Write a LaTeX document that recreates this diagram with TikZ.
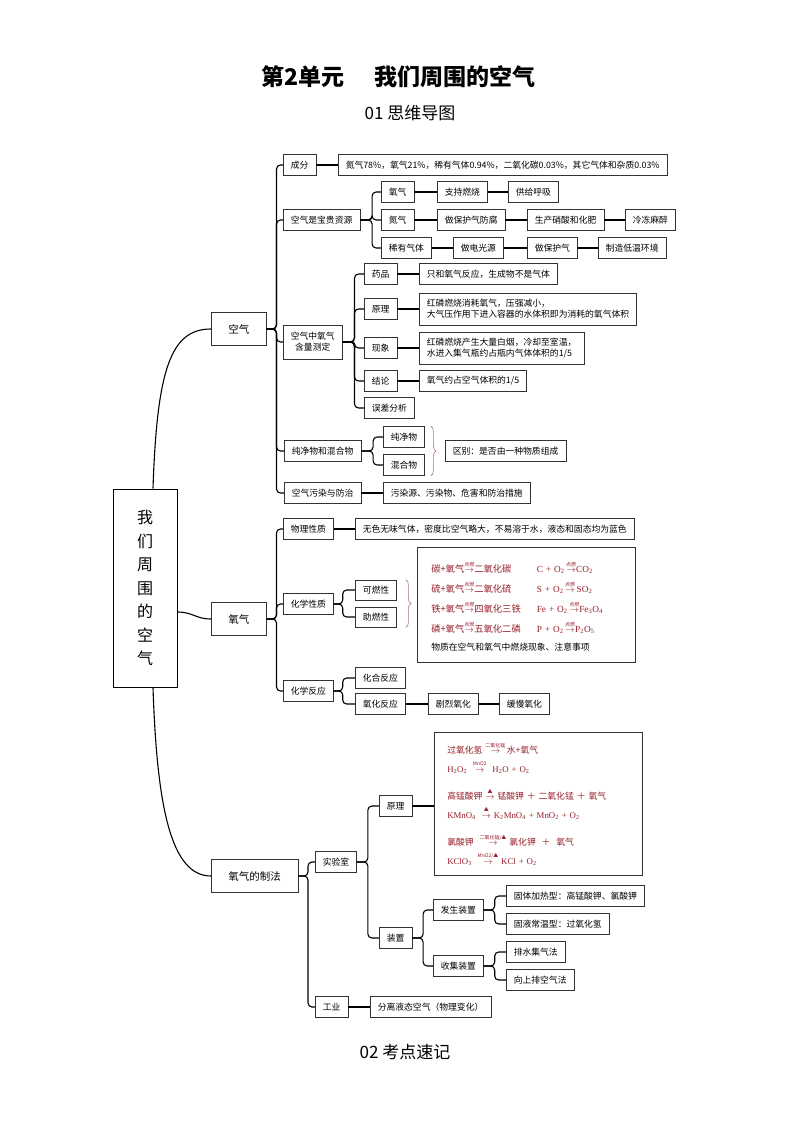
\documentclass[tikz,border=0pt]{standalone}
\usepackage{fontspec}
\setmainfont{Noto Sans CJK SC}
\newfontfamily\cjk{Noto Sans CJK SC}
\newfontfamily\chemfont{Liberation Serif}
\usetikzlibrary{decorations.pathreplacing}
\definecolor{rxnred}{RGB}{150,30,40}
\definecolor{bracecol}{RGB}{175,115,115}
\newcommand{\rarr}[1]{$\stackrel{\mbox{\cjk\fontsize{5}{5}\selectfont\raisebox{1pt}{#1}}}{\rightarrow}$}
\newcommand{\chsub}[1]{\textsubscript{#1}}
\tikzset{
  box/.style={draw=black!80, line width=0.5pt, fill=white, anchor=west, minimum height=21,
    inner xsep=7.5, inner ysep=3, font=\fontsize{8.8}{11}\selectfont},
  big/.style={box, minimum height=33, inner xsep=17, font=\fontsize{10.5}{13}\selectfont},
  twoline/.style={box, minimum height=32, align=left},
  link/.style={line width=1.1pt, rounded corners=4pt},
  branch/.style={line width=1.1pt},
  brc/.style={decorate, decoration={brace, amplitude=5pt}, draw=bracecol, line width=0.6pt}
}
\begin{document}
\begin{tikzpicture}[x=1pt, y=-1pt]
    \fill[white] (0,0) rectangle (794,1123);
    \useasboundingbox (0,0) rectangle (794,1123);
    % Titles
    \node[font=\fontsize{23}{25}\selectfont\bfseries] (title) at (398,77) {第2单元\hspace{30pt}我们周围的空气};
    \node[font=\fontsize{17}{19}\selectfont] (sub1) at (410,113) {01 思维导图};
    \node[font=\fontsize{17}{19}\selectfont] (sub2) at (405,1052) {02 考点速记};
    % Root and main branches
    \node[draw, line width=1pt, minimum width=64, minimum height=198, align=center,
      font=\fontsize{16}{23.5}\selectfont] (root) at (145,588) {我\\们\\周\\围\\的\\空\\气};
    \node[big] (air) at (211,329) {空气};
    \node[big] (oxy) at (211,619) {氧气};
    \node[big] (prep) at (211,876) {氧气的制法};
    \draw[branch] ([xshift=8]root.north) .. controls +(4,-120) and +(-40,0) .. (air.west);
    \draw[branch] ([yshift=-24]root.east) .. controls +(15,0) and +(-15,0) .. (oxy.west);
    \draw[branch] ([xshift=8]root.south) .. controls +(4,120) and +(-40,0) .. (prep.west);

    % Air
    \node[box] (comp) at (283,165) {成分};
    \node[box] (compt) at (338,165) {氮气78\%，氧气21\%，稀有气体0.94\%，二氧化碳0.03\%，其它气体和杂质0.03\%};
    \node[box] (res) at (283,220) {空气是宝贵资源};
    \node[box] (o2) at (381,192) {氧气};
    \node[box] (o2a) at (437,192) {支持燃烧};
    \node[box] (o2b) at (508,192) {供给呼吸};
    \node[box] (n2) at (381,220) {氮气};
    \node[box] (n2a) at (437,220) {做保护气防腐};
    \node[box] (n2b) at (527,220) {生产硝酸和化肥};
    \node[box] (n2c) at (625,220) {冷冻麻醉};
    \node[box] (rare) at (381,248) {稀有气体};
    \node[box] (rarea) at (453,248) {做电光源};
    \node[box] (rareb) at (527,248) {做保护气};
    \node[box] (rarec) at (598,248) {制造低温环境};
    \node[twoline, align=center, minimum height=34] (meas) at (283,342) {空气中氧气\\含量测定};
    \node[box] (drug) at (364,274) {药品};
    \node[box] (drugt) at (419,274) {只和氧气反应，生成物不是气体};
    \node[box] (prin) at (364,309) {原理};
    \node[twoline] (print) at (419,309) {红磷燃烧消耗氧气，压强减小，\\大气压作用下进入容器的水体积即为消耗的氧气体积};
    \node[box] (phen) at (364,348) {现象};
    \node[twoline] (phent) at (419,348) {红磷燃烧产生大量白烟，冷却至室温，\\水进入集气瓶约占瓶内气体体积的1/5};
    \node[box] (conc) at (364,381) {结论};
    \node[box] (conct) at (419,381) {氧气约占空气体积的1/5};
    \node[box] (err) at (364,408) {误差分析};
    \node[box] (pm) at (284,451) {纯净物和混合物};
    \node[box] (pure) at (383,437) {纯净物};
    \node[box] (mix) at (383,465) {混合物};
    \node[box] (diff) at (445,451) {区别：是否由一种物质组成};
    \node[box] (poll) at (284,493) {空气污染与防治};
    \node[box] (pollt) at (383,493) {污染源、污染物、危害和防治措施};
    \draw[brc] ([xshift=6]pure.north east) -- ([xshift=6]mix.south east);

    % Oxygen
    \node[box] (phys) at (283,529) {物理性质};
    \node[box] (physt) at (355,529) {无色无味气体，密度比空气略大，不易溶于水，液态和固态均为蓝色};
    \node[box] (chem) at (283,604) {化学性质};
    \node[box, minimum height=20] (comb) at (355,590) {可燃性};
    \node[box, minimum height=20] (supp) at (355,617) {助燃性};
    \draw[brc] ([xshift=9]comb.north east) -- ([xshift=9]supp.south east);
    \node[box, anchor=north west, align=left, inner xsep=14, text width=190, minimum height=115] (burn) at (417,547) {%
      {\color{rxnred}\fontsize{9.3}{20}\selectfont
      \begin{tabular}{@{}l@{\hspace{16pt}}l@{}}
      碳+氧气\rarr{点燃}二氧化碳 & {\chemfont C + O\chsub{2}\,\rarr{点燃}CO\chsub{2}}\\
      硫+氧气\rarr{点燃}二氧化硫 & {\chemfont S + O\chsub{2}\,\rarr{点燃}\,SO\chsub{2}}\\
      铁+氧气\rarr{点燃}四氧化三铁 & {\chemfont Fe + O\chsub{2}\,\rarr{点燃}Fe\chsub{3}O\chsub{4}}\\
      磷+氧气\rarr{点燃}五氧化二磷 & {\chemfont P + O\chsub{2}\,\rarr{点燃}P\chsub{2}O\chsub{5}}
      \end{tabular}}\\[3pt]
      物质在空气和氧气中燃烧现象、注意事项};
    \node[box] (react) at (283,691) {化学反应};
    \node[box] (combi) at (355,678) {化合反应};
    \node[box] (oxid) at (355,704) {氧化反应};
    \node[box] (fast) at (428,704) {剧烈氧化};
    \node[box] (slow) at (499,704) {缓慢氧化};

    % Preparation
    \node[box] (lab) at (315,862) {实验室};
    \node[box] (lp) at (379,806) {原理};
    \node[box, anchor=north west, align=left, inner xsep=13, text width=182, minimum height=143,
      font=\fontsize{8.8}{18.5}\selectfont, text=rxnred] (rbox) at (434,732) {%
      过氧化氢\ \rarr{二氧化锰}\,水+氧气\\
      {\chemfont H\chsub{2}O\chsub{2}\ \ \rarr{MnO2}\ \ H\chsub{2}O + O\chsub{2}}\\[9pt]
      高锰酸钾\ \rarr{▲}\ 锰酸钾\ ＋\ 二氧化锰\ ＋\ 氧气\\
      {\chemfont KMnO\chsub{4}\ \ \rarr{▲}\ K\chsub{2}MnO\chsub{4} + MnO\chsub{2} + O\chsub{2}}\\[9pt]
      氯酸钾\ \ \rarr{二氧化锰/▲}\ 氯化钾\ \ ＋\ \ 氧气\\
      {\chemfont KClO\chsub{3}\ \ \rarr{MnO2/▲}\ KCl + O\chsub{2}}};
    \node[box] (dev) at (379,938) {装置};
    \node[box] (gen) at (433,910) {发生装置};
    \node[box] (gen1) at (506,896) {固体加热型：高锰酸钾、氯酸钾};
    \node[box] (gen2) at (506,924) {固液常温型：过氧化氢};
    \node[box] (col) at (433,966) {收集装置};
    \node[box] (col1) at (506,952) {排水集气法};
    \node[box] (col2) at (506,980) {向上排空气法};
    \node[box] (ind) at (315,1007) {工业};
    \node[box] (indt) at (370,1007) {分离液态空气（物理变化）};

    % Connectors
    \foreach \c in {comp,res,meas,pm,poll} \draw[link] (air.east) -- ++(10,0) |- (\c.west);
    \foreach \c in {o2,n2,rare} \draw[link] (res.east) -- ++(12,0) |- (\c.west);
    \foreach \c in {drug,prin,phen,conc,err} \draw[link] (meas.east) -- ++(12,0) |- (\c.west);
    \foreach \c in {pure,mix} \draw[link] (pm.east) -- ++(12,0) |- (\c.west);
    \foreach \c in {phys,chem,react} \draw[link] (oxy.east) -- ++(10,0) |- (\c.west);
    \foreach \c in {comb,supp} \draw[link] (chem.east) -- ++(9,0) |- (\c.west);
    \foreach \c in {combi,oxid} \draw[link] (react.east) -- ++(9,0) |- (\c.west);
    \foreach \c in {lab,ind} \draw[link] (prep.east) -- ++(10,0) |- (\c.west);
    \foreach \c in {lp,dev} \draw[link] (lab.east) -- ++(11,0) |- (\c.west);
    \foreach \c in {gen,col} \draw[link] (dev.east) -- ++(11,0) |- (\c.west);
    \foreach \c in {gen1,gen2} \draw[link] (gen.east) -- ++(11,0) |- (\c.west);
    \foreach \c in {col1,col2} \draw[link] (col.east) -- ++(11,0) |- (\c.west);
    \foreach \a/\b in {comp/compt, o2/o2a, o2a/o2b, n2/n2a, n2a/n2b, n2b/n2c, rare/rarea, rarea/rareb,
      rareb/rarec, drug/drugt, prin/print, phen/phent, conc/conct, poll/pollt, phys/physt,
      oxid/fast, fast/slow, ind/indt}
      \draw[link] (\a.east) -- (\b.west);
    \draw[link] (lp.east) -- (lp.east -| rbox.west);
\end{tikzpicture}
\end{document}
